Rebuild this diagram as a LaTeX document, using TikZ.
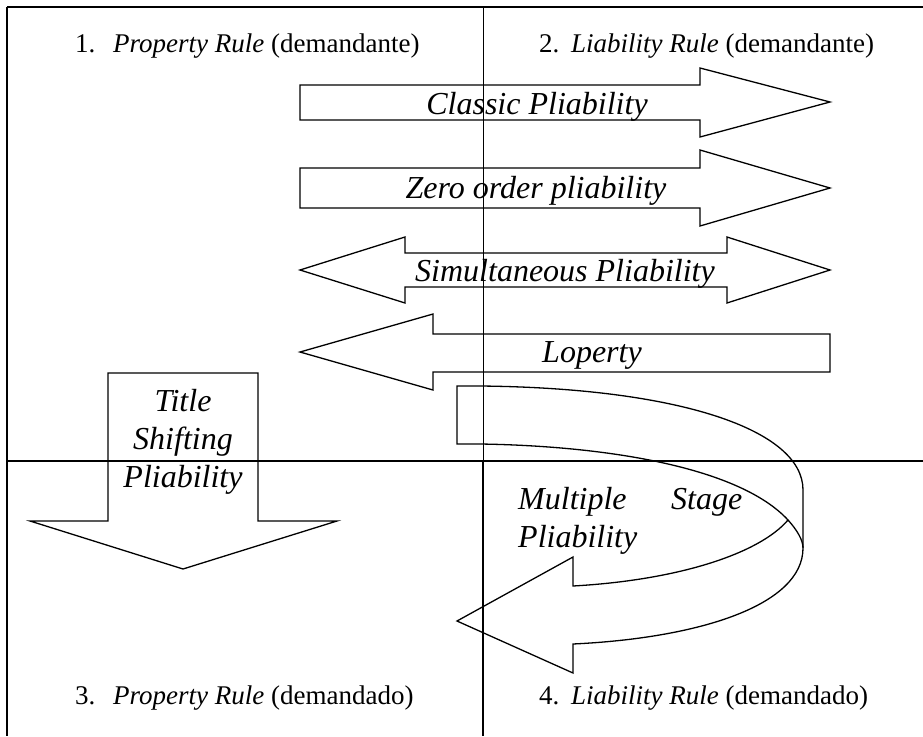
\documentclass[tikz,border=0pt]{standalone}
\usepackage{fontspec}
\setmainfont{Liberation Serif}
\tikzset{
  rule/.style={line width=2pt},
  block/.style={line width=1.3pt, line join=miter},
  lbl/.style={font=\fontsize{32}{38}\selectfont\itshape, inner sep=0pt},
  cell/.style={font=\fontsize{27}{30}\selectfont, anchor=base west, inner sep=0pt}
}
\begin{document}
\begin{tikzpicture}[x=1pt,y=-1pt]
\useasboundingbox (0,0) rectangle (923,736);
% table
\draw[line width=2.5pt] (7,7) -- (923,7);
\draw[line width=1.5pt] (7,7) -- (7,736);
\draw[line width=0.8pt] (483,7) -- (483,461);
\draw[rule] (483,461) -- (483,736);
\draw[rule] (7,461) -- (923,461);
\node[cell] (cellA) at (75,52) {\makebox[38pt][l]{1.}\textit{Property Rule} (demandante)};
\node[cell] (cellB) at (539,52) {\makebox[32pt][l]{2.}\textit{Liability Rule} (demandante)};
\node[cell] (cellC) at (75,704) {\makebox[38pt][l]{3.}\textit{Property Rule} (demandado)};
\node[cell] (cellD) at (539,704) {\makebox[32pt][l]{4.}\textit{Liability Rule} (demandado)};
% classic
\draw[block] (300,85) -- (700,85) -- (700,68) -- (830,102) -- (700,137) -- (700,120) -- (300,120) -- cycle;
\begin{scope}
\clip (300,85) rectangle (700,120);
\node[lbl, anchor=base] (classic) at (537,114) {Classic Pliability};
\end{scope}
% zero order
\draw[block] (300,168) -- (700,168) -- (700,150) -- (830,188) -- (700,226) -- (700,208) -- (300,208) -- cycle;
\node[lbl, anchor=base] (zero) at (536,198) {Zero order pliability};
% simultaneous
\draw[block] (300,270) -- (405,237) -- (405,253) -- (727,253) -- (727,237) -- (830,270)
  -- (727,303) -- (727,287) -- (405,287) -- (405,303) -- cycle;
\begin{scope}
\clip (405,253) rectangle (727,287);
\node[lbl, anchor=base] (simul) at (565,281) {Simultaneous Pliability};
\end{scope}
% loperty
\draw[block] (830,334) -- (433,334) -- (433,314) -- (300,352) -- (433,390) -- (433,372) -- (830,372) -- cycle;
\node[lbl, anchor=base] (loperty) at (592,362) {Loperty};
% title shifting
\draw[block] (108,373) -- (258,373) -- (258,521) -- (337,521) -- (183,569) -- (30,521) -- (108,521) -- cycle;
\node[lbl, align=center, anchor=base] (title) at (183,487) {Title\\Shifting\\Pliability};
% multiple stage
\draw[block] (457,386) -- (480,386) .. controls (680,388) and (803,430) .. (803,490)
  -- (803,548) .. controls (803,605) and (700,638) .. (573,644)
  -- (573,673) -- (457,621) -- (573,557) -- (573,586)
  .. controls (680,580) and (760,553) .. (788,520)
  .. controls (740,468) and (610,446) .. (480,444) -- (457,444) -- cycle;
\draw[block] (788,520) .. controls (797,530) and (803,540) .. (803,548);
\node[lbl, anchor=base west, text width=224pt, align=left] (multi) at (518,509) {Multiple\hfill Stage\\Pliability};
\end{tikzpicture}
\end{document}
